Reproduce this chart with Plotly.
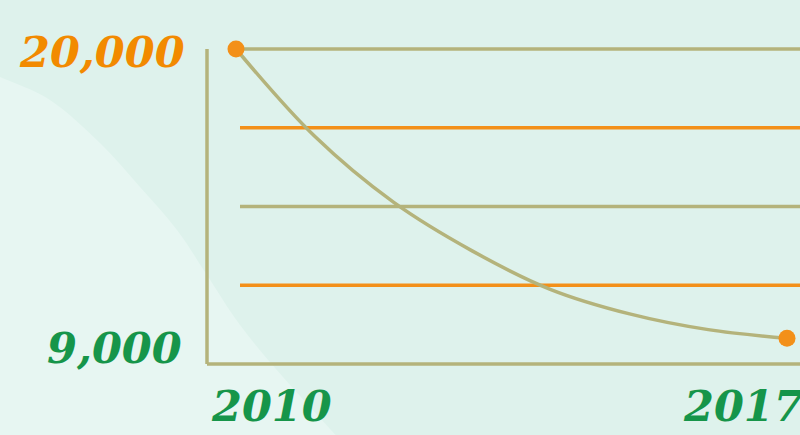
import plotly.graph_objects as go

# ---- data ----
years = [2010, 2011, 2012, 2013, 2014, 2015, 2016, 2017]
values = [20000, 16950, 14650, 12950, 11600, 10750, 10200, 9900]
end_years = [2010, 2017]
end_values = [20000, 9900]
grid_values = [20000, 17250, 14500, 11750]
axis_min = 9000
y_tick_labels = ["20,000", "9,000"]
y_tick_values = [20000, 9000]
x_tick_labels = ["2010", "2017"]
x_tick_values = [2010, 2017]

# ---- style ----
W, H = 800, 435
BG = "#DEF2EC"
BG_LIGHT = "#E7F6F2"
OLIVE = "#B4B37B"
ORANGE = "#F39019"
ORANGE_TXT = "#F28A00"
GREEN_TXT = "#16954A"
FONT = "DejaVu Serif"
LW = 3.5


def pp(x, y):
    return (x / W, 1 - y / H)


def fmt(p):
    return f"{p[0]:.5f},{p[1]:.5f}"


# lighter background blob (lower-left), smooth Catmull-Rom through traced points
blob_pts = [(-20, 68), (0, 77), (50, 100), (100, 143), (140, 187), (177, 230), (205, 272),
            (240, 325), (283, 377), (340, 440), (360, 465)]
pts = [pp(x, y) for x, y in blob_pts]
path = "M " + fmt(pts[1])
for i in range(1, len(pts) - 2):
    p0, p1, p2, p3 = pts[i - 1], pts[i], pts[i + 1], pts[i + 2]
    c1 = (p1[0] + (p2[0] - p0[0]) / 6, p1[1] + (p2[1] - p0[1]) / 6)
    c2 = (p2[0] - (p3[0] - p1[0]) / 6, p2[1] - (p3[1] - p1[1]) / 6)
    path += f" C {fmt(c1)} {fmt(c2)} {fmt(p2)}"
path += " L " + fmt(pp(-5, 445)) + " L " + fmt(pp(-5, 77)) + " Z"

fig = go.Figure()

fig.add_trace(go.Scatter(
    x=years, y=values, mode="lines",
    line=dict(color=OLIVE, width=LW, shape="spline", smoothing=1.0),
    hoverinfo="skip", showlegend=False,
))
fig.add_trace(go.Scatter(
    x=end_years, y=end_values, mode="markers",
    marker=dict(color=ORANGE, size=17, line=dict(width=0)),
    hoverinfo="skip", showlegend=False,
))

shapes = [dict(type="path", path=path, xref="paper", yref="paper",
               fillcolor=BG_LIGHT, line=dict(width=0), layer="below")]
grid_colors = [OLIVE, ORANGE, OLIVE, ORANGE]
for v, c in zip(grid_values, grid_colors):
    shapes.append(dict(type="line", xref="paper", yref="y", x0=240 / W, x1=1.0,
                       y0=v, y1=v, line=dict(color=c, width=LW), layer="below"))
# L-shaped axis
shapes.append(dict(type="line", xref="paper", yref="y", x0=207 / W, x1=207 / W,
                   y0=grid_values[0], y1=axis_min, line=dict(color=OLIVE, width=LW), layer="below"))
shapes.append(dict(type="line", xref="paper", yref="y", x0=207 / W, x1=1.0,
                   y0=axis_min, y1=axis_min, line=dict(color=OLIVE, width=LW), layer="below"))

font_kw = dict(family=FONT, size=43, weight="bold", style="italic")
annotations = [
    dict(text=y_tick_labels[0], xref="paper", yref="y", x=187 / W, y=y_tick_values[0],
         xanchor="right", yanchor="middle", yshift=-3, showarrow=False,
         font=dict(color=ORANGE_TXT, **font_kw)),
    dict(text=y_tick_labels[1], xref="paper", yref="y", x=184 / W, y=y_tick_values[1],
         xanchor="right", yanchor="middle", yshift=16, showarrow=False,
         font=dict(color=GREEN_TXT, **font_kw)),
    dict(text=x_tick_labels[0], xref="x", yref="paper", x=x_tick_values[0], y=1 - 406 / H,
         xanchor="left", yanchor="middle", xshift=-27, showarrow=False,
         font=dict(color=GREEN_TXT, **font_kw)),
    dict(text=x_tick_labels[1], xref="x", yref="paper", x=x_tick_values[1], y=1 - 406 / H,
         xanchor="left", yanchor="middle", xshift=-106, showarrow=False,
         font=dict(color=GREEN_TXT, **font_kw)),
]

# axis ranges so that 2010 -> 236px, 2017 -> 787px, 20000 -> 49px, 9000 -> 364px
xs = (787 - 236) / 7.0
x0 = 2010 - 236 / xs
x1 = 2010 + (W - 236) / xs
ys = (364 - 49) / (20000 - 9000)
ytop = 20000 + 49 / ys
ybot = 9000 - (H - 364) / ys

fig.update_layout(
    width=W, height=H,
    margin=dict(l=0, r=0, t=0, b=0),
    paper_bgcolor=BG, plot_bgcolor=BG,
    xaxis=dict(range=[x0, x1], visible=False, fixedrange=True),
    yaxis=dict(range=[ybot, ytop], visible=False, fixedrange=True),
    shapes=shapes, annotations=annotations,
    showlegend=False,
)

fig.write_html(
    "out.html",
    config={"displayModeBar": False},
    post_script="document.body.style.margin='0';document.body.style.overflow='hidden';",
)
